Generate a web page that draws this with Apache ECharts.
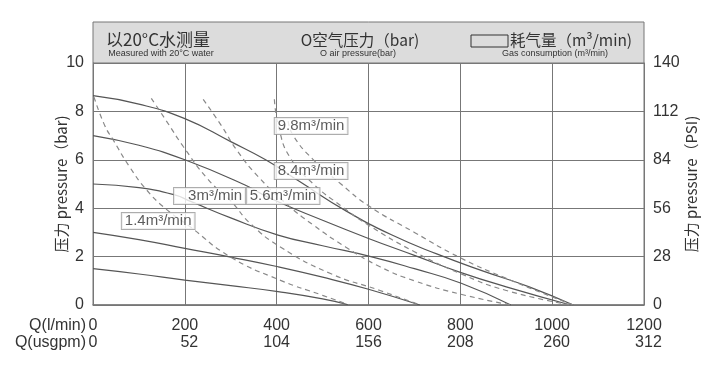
<!DOCTYPE html>
<html lang="zh">
<head>
<meta charset="UTF-8">
<script src="https://cdn.jsdelivr.net/npm/echarts@6/dist/echarts.min.js"></script>
<style>
  body { margin: 0; background: #fff; }
  #chart { width: 716px; height: 373px; }
</style>
</head>
<body>
<div id="chart"></div>
<script>
// 刻度
const flowTicks = [0, 200, 400, 600, 800, 1000, 1200];
const usgpmTicks = [0, 52, 104, 156, 208, 260, 312];

// 空气压力曲线 (实线)  [l/min, bar]
const air1 = [[0,8.65],[100,8.3],[200,7.7],[300,6.75],[376,6.0],[450,5.1],[550,3.9],[650,2.9],[750,2.1],[850,1.4],[950,0.75],[1046,0]];
const air2 = [[0,7.0],[100,6.6],[200,6.0],[331,4.96],[386,4.41],[500,3.5],[600,2.75],[700,2.05],[800,1.35],[900,0.75],[1040,0]];
const air3 = [[0,5.0],[100,4.85],[178,4.55],[214,4.27],[300,3.6],[403,2.89],[500,2.45],[605,2.0],[700,1.5],[802,0.9],[910,0]];
const air4 = [[0,3.0],[100,2.7],[200,2.34],[300,1.98],[403,1.58],[500,1.15],[600,0.65],[712,0]];
const air5 = [[0,1.5],[100,1.28],[200,1.03],[300,0.8],[403,0.55],[500,0.25],[558,0]];

// 耗气量曲线 (虚线)
const gas14 = [[2,8.6],[26,7.4],[44,6.82],[80,5.7],[117,4.75],[160,3.95],[211,3.24],[298,2.0],[407,1.03],[500,0.4],[558,0]];
const gas30 = [[127,8.54],[160,7.6],[197,6.54],[250,5.2],[300,4.3],[342,3.38],[407,2.41],[516,1.31],[625,0.6],[712,0]];
const gas56 = [[240,8.5],[280,7.4],[313,6.4],[360,5.3],[420,4.2],[480,3.3],[550,2.4],[625,1.58],[700,1.0],[800,0.45],[910,0]];
const gas84 = [[395,8.5],[405,7.3],[429,6.1],[480,5.0],[540,4.1],[600,3.3],[700,2.2],[800,1.3],[900,0.6],[1040,0]];
const gas98 = [[425,7.6],[436,7.0],[480,6.0],[540,5.0],[600,4.1],[700,3.0],[800,1.95],[900,1.1],[1046,0]];

const gasNames = ['1.4m³/min', '3m³/min', '5.6m³/min', '8.4m³/min', '9.8m³/min'];
const gasLabelAt = [[142,3.47],[254,4.5],[414,4.5],[475,5.54],[475,7.4]];

const chart = echarts.init(document.getElementById('chart'));

function solid(d) {
  return { type: 'line', data: d, smooth: true, symbol: 'none', silent: true,
    lineStyle: { color: '#555', width: 1.2 } };
}
function dashed(d) {
  return { type: 'line', data: d, smooth: true, symbol: 'none', silent: true,
    lineStyle: { color: '#888', width: 1.2, type: [5, 4] } };
}

const txt = '#333';
const font = 'Liberation Sans, Arial, sans-serif';
const cjk = '"Noto Sans CJK SC", sans-serif';

chart.setOption({
  animation: false,
  grid: { left: 93, right: 72, top: 63, bottom: 68, show: true, borderColor: '#777', borderWidth: 1 },
  xAxis: {
    type: 'value', min: 0, max: 1200, interval: 200,
    axisLine: { lineStyle: { color: '#777', width: 1.5 } },
    axisTick: { show: false },
    splitLine: { lineStyle: { color: '#777' } },
    axisLabel: {
      margin: 12, fontFamily: font, fontSize: 16, color: txt, lineHeight: 17,
      formatter: v => '{a|' + v + '}\n{b|' + usgpmTicks[flowTicks.indexOf(v)] + '}',
      rich: { a: { fontSize: 16, fontFamily: font, color: txt, lineHeight: 17 },
              b: { fontSize: 16, fontFamily: font, color: txt, lineHeight: 17, align: 'right' } }
    }
  },
  yAxis: [{
    type: 'value', min: 0, max: 10, interval: 2,
    name: '压力 pressure（bar)', nameLocation: 'middle', nameGap: 24, nameMoveOverlap: false,
    nameTextStyle: { fontFamily: cjk, fontSize: 15, color: txt },
    axisLine: { show: true, lineStyle: { color: '#777' } },
    axisTick: { show: false },
    splitLine: { lineStyle: { color: '#777' } },
    axisLabel: { fontFamily: font, fontSize: 16, color: txt, margin: 9 }
  }, {
    type: 'value', min: 0, max: 140, interval: 28, position: 'right',
    name: '压力 pressure（PSI)', nameLocation: 'middle', nameGap: 40, nameMoveOverlap: false,
    nameTextStyle: { fontFamily: cjk, fontSize: 15, color: txt },
    axisLine: { show: true, lineStyle: { color: '#777' } },
    axisTick: { show: false },
    splitLine: { show: false },
    axisLabel: { fontFamily: font, fontSize: 16, color: txt, margin: 9 }
  }],
  series: [
    solid(air1), solid(air2), solid(air3), solid(air4), solid(air5),
    dashed(gas14), dashed(gas30), dashed(gas56), dashed(gas84), dashed(gas98),
    {
      type: 'scatter', symbolSize: 0, silent: true, z: 10,
      data: gasLabelAt.map((p, i) => ({ value: p, name: gasNames[i],
        label: i === 1 ? { padding: [1, 3, 0, 14] } : {} })),
      label: {
        show: true, position: 'inside', formatter: p => p.name,
        fontFamily: font, fontSize: 15, color: txt,
        backgroundColor: '#fff', borderColor: '#999', borderWidth: 1,
        padding: [1, 3, 0, 3]
      }
    }
  ],
  graphic: [
    { type: 'rect', shape: { x: 93, y: 22, width: 551, height: 41 },
      style: { fill: '#dcdcdc', stroke: '#777', lineWidth: 1 } },
    { type: 'text', x: 158, y: 40, style: { text: '以20°C水测量', font: '17px ' + cjk, fill: txt, textAlign: 'center', textVerticalAlign: 'middle' } },
    { type: 'text', x: 161, y: 54, style: { text: 'Measured with 20°C water', font: '9px ' + font, fill: txt, textAlign: 'center', textVerticalAlign: 'middle' } },
    { type: 'text', x: 360, y: 40, style: { text: 'O空气压力（bar)', font: '15.5px ' + cjk, fill: txt, textAlign: 'center', textVerticalAlign: 'middle' } },
    { type: 'text', x: 358, y: 54, style: { text: 'O air pressure(bar)', font: '9px ' + font, fill: txt, textAlign: 'center', textVerticalAlign: 'middle' } },
    { type: 'rect', shape: { x: 471, y: 35, width: 37, height: 12 }, style: { fill: 'none', stroke: '#333', lineWidth: 1 } },
    { type: 'text', x: 510, y: 40, style: { text: '耗气量（m³/min)', font: '15.5px ' + cjk, fill: txt, textAlign: 'left', textVerticalAlign: 'middle' } },
    { type: 'text', x: 555, y: 54, style: { text: 'Gas consumption (m³/min)', font: '9px ' + font, fill: txt, textAlign: 'center', textVerticalAlign: 'middle' } },
    { type: 'text', x: 86, y: 326, style: { text: 'Q(l/min)', font: '16px ' + font, fill: txt, textAlign: 'right', textVerticalAlign: 'middle' } },
    { type: 'text', x: 86, y: 343, style: { text: 'Q(usgpm)', font: '16px ' + font, fill: txt, textAlign: 'right', textVerticalAlign: 'middle' } }
  ]
});
</script>
</body>
</html>
